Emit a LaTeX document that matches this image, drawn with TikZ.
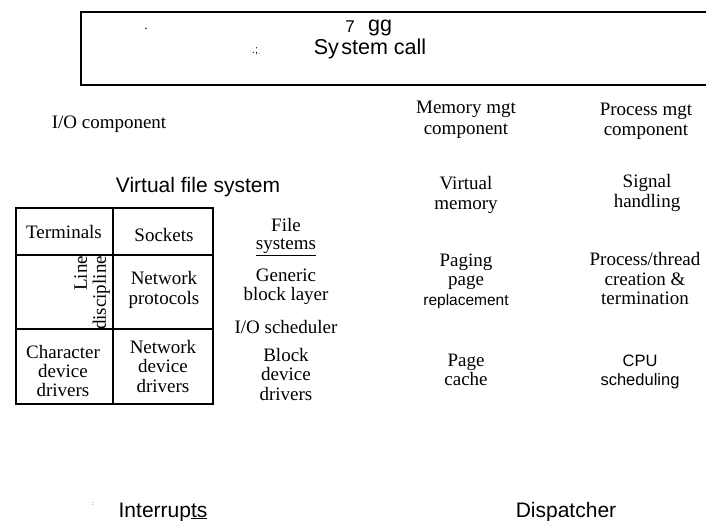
\documentclass[tikz,border=0pt]{standalone}
\usepackage{fontspec}
\setmainfont{Liberation Serif}
\newfontfamily\mysans{Liberation Sans}
\tikzset{
  frame/.style={line width=1.2pt},
  cell/.style={line width=1.1pt},
  lbl/.style={inner sep=0pt, align=center, font=\fontsize{19}{19.5}\selectfont},
  sanslbl/.style={inner sep=0pt, align=center, font=\mysans\fontsize{21}{23}\selectfont},
  smallsans/.style={inner sep=0pt, align=center, font=\mysans\fontsize{16.5}{19.5}\selectfont}
}
\begin{document}
\begin{tikzpicture}[x=1pt,y=-1pt]
\useasboundingbox (0,0) rectangle (706,521);
% top box
\coordinate (tr) at (706,12);
\coordinate (tl) at (81,12);
\coordinate (bl) at (81,85);
\coordinate (br) at (706,85);
\draw[frame] (tr) -- (tl) -- (bl) -- (br);
\node[inner sep=0pt, font=\mysans\fontsize{14}{14}\selectfont] (dot) at (146,29) {$\cdot$};
\node[inner sep=0pt, anchor=base, font=\mysans\fontsize{17}{17}\selectfont] (seven) at (350,33) {7};
\node[inner sep=0pt, anchor=base, font=\mysans\fontsize{21.5}{21.5}\selectfont] (gg) at (380,31.5) {gg};
\node[inner sep=0pt, anchor=base, font=\mysans\fontsize{11}{11}\selectfont] (punct) at (256,54) {.;\raisebox{-1pt}{\scriptsize .}};
\node[inner sep=0pt, anchor=base, font=\mysans\fontsize{21.5}{21.5}\selectfont] (syscall) at (370,55) {Sy\kern2.5pt stem call};
% left column
\node[lbl, anchor=base] (io) at (109,129) {I/O component};
\node[sanslbl, anchor=base] (vfs) at (198,193) {Virtual file system};
% table
\coordinate (a1) at (16,208); \coordinate (a2) at (113,208); \coordinate (a3) at (213,208);
\coordinate (d1) at (16,404); \coordinate (d2) at (113,404); \coordinate (d3) at (213,404);
\coordinate (b1) at (16,255); \coordinate (b3) at (213,255);
\coordinate (c1) at (16,329); \coordinate (c3) at (213,329);
\draw[cell] (a1) rectangle (d3);
\draw[cell] (a2) -- (d2);
\draw[cell] (b1) -- (b3);
\draw[cell] (c1) -- (c3);
\node[lbl, anchor=base] (term) at (64,239) {Terminals};
\node[lbl, anchor=base] (sock) at (164,241) {Sockets};
\node[lbl, rotate=90, align=right, font=\fontsize{19}{19}\selectfont] (line) at (92,293) {Line\\discipline};
\node[lbl] (netp) at (164,290) {Network\\protocols};
\node[lbl, font=\fontsize{19}{19}\selectfont] (chardd) at (63,371) {Character\\device\\drivers};
\node[lbl, font=\fontsize{19}{19.5}\selectfont] (netdd) at (163,366) {Network\\device\\drivers};
% middle column
\node[lbl, font=\fontsize{19}{18}\selectfont] (fs) at (286,237) {File\\\underline{systems}};
\node[lbl] (gbl) at (286,287) {Generic\\block layer};
\node[lbl, anchor=base] (iosch) at (286,333) {I/O scheduler};
\node[lbl] (bdd) at (286,374) {Block\\device\\drivers};
% right columns
\node[lbl, font=\fontsize{19}{21}\selectfont] (mem) at (466,120) {Memory mgt\\component};
\node[lbl, font=\fontsize{19}{20}\selectfont] (proc) at (646,121) {Process mgt\\component};
\node[lbl] (vm) at (466,195) {Virtual\\memory};
\node[lbl] (sig) at (647,193) {Signal\\handling};
\node[lbl] (paging) at (466,281) {Paging\\page\\{\mysans\fontsize{15.5}{19.5}\selectfont replacement}};
\node[lbl] (ptc) at (645,279) {Process/thread\\creation \&\\termination};
\node[lbl] (pc) at (466,370) {Page\\cache};
\node[smallsans] (cpu) at (640,372) {CPU\\scheduling};
% bottom
\node[inner sep=0pt, font=\fontsize{6}{6}\selectfont] (colon) at (93,504) {:};
\node[sanslbl, anchor=base] (intr) at (163,517) {Interrup\underline{ts}};
\node[sanslbl, anchor=base] (disp) at (566,517) {Dispatcher};
\end{tikzpicture}
\end{document}
